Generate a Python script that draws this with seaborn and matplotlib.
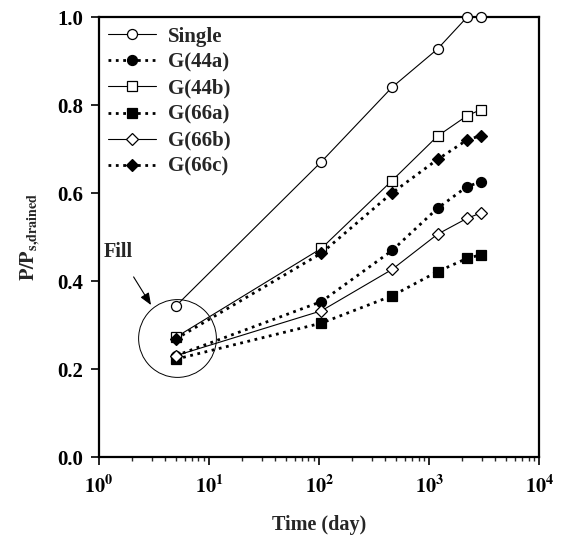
import matplotlib
matplotlib.use("Agg")
import matplotlib.pyplot as plt
import seaborn as sns
import numpy as np
from matplotlib.ticker import FixedLocator, FuncFormatter, LogLocator, NullFormatter

# ---- data ----
time_days = [5, 105, 460, 1190, 2200, 2930]
single = [0.344, 0.672, 0.841, 0.928, 1.0, 1.0]
g44a = [0.231, 0.354, 0.470, 0.566, 0.615, 0.626]
g44b = [0.273, 0.475, 0.629, 0.730, 0.776, 0.790]
g66a = [0.223, 0.305, 0.367, 0.422, 0.452, 0.460]
g66b = [0.231, 0.333, 0.427, 0.507, 0.543, 0.555]
g66c = [0.269, 0.464, 0.601, 0.677, 0.721, 0.731]
series_names = ["Single", "G(44a)", "G(44b)", "G(66a)", "G(66b)", "G(66c)"]
fill_center = (5.15, 0.272)
fill_label_pos = (1.49, 0.467)
fill_arrow_tip = (2.97, 0.346)
x_ticks = [1, 10, 100, 1000, 10000]
y_ticks = [0.0, 0.2, 0.4, 0.6, 0.8, 1.0]

sns.set_style("ticks")
plt.rcParams['font.family'] = ['Liberation Serif', 'DejaVu Serif']
plt.rcParams['font.weight'] = 'bold'
plt.rcParams['mathtext.fontset'] = 'stix'

fig = plt.figure(figsize=(5.63, 5.38), dpi=100)
ax = fig.add_axes([99/563, 1-457.3/538, (539.3-99)/563, (457.3-17.3)/538])

styles = [
    (single, 'o', 'white', '-', 0.8, 7.2),
    (g44a, 'o', 'black', ':', 2.0, 7.2),
    (g44b, 's', 'white', '-', 0.8, 6.8),
    (g66a, 's', 'black', ':', 2.0, 6.8),
    (g66b, 'D', 'white', '-', 0.8, 6.6),
    (g66c, 'D', 'black', ':', 2.0, 6.6),
]
for name, (vals, mk, fc, ls, lw, ms) in zip(series_names, styles):
    sns.lineplot(x=time_days, y=vals, ax=ax, color='black', linestyle=ls,
                 linewidth=lw, marker=mk, markersize=ms, markerfacecolor=fc,
                 markeredgecolor='black', markeredgewidth=0.9, label=name,
                 clip_on=False, zorder=3)

# circle around fill point
ax.plot([fill_center[0]], [fill_center[1]], marker='o', markersize=56,
        markerfacecolor='none', markeredgecolor='black', markeredgewidth=0.7,
        linestyle='none', zorder=2)
ax.annotate('Fill', xy=fill_arrow_tip, xytext=fill_label_pos,
            ha='center', va='center', fontsize=14.5, fontweight='bold',
            arrowprops=dict(arrowstyle='-|>,head_length=0.5,head_width=0.2',
                            color='black', lw=0.8, shrinkA=10, shrinkB=0))

ax.set_xscale('log')
ax.set_xlim(1, 10000)
ax.set_ylim(0, 1.0)
ax.xaxis.set_major_locator(FixedLocator(x_ticks))
ax.xaxis.set_major_formatter(FuncFormatter(lambda v, p: r'$\mathbf{10^{%d}}$' % int(round(np.log10(v)))))
ax.xaxis.set_minor_locator(LogLocator(base=10, subs=np.arange(2, 10)))
ax.xaxis.set_minor_formatter(NullFormatter())
ax.yaxis.set_major_locator(FixedLocator(y_ticks))
ax.set_yticklabels([f"{v:.1f}" for v in y_ticks])

for s in ax.spines.values():
    s.set_linewidth(1.6)
    s.set_color('black')
ax.tick_params(axis='both', which='major', direction='out', length=5.5, width=1.2,
               colors='black')
ax.tick_params(axis='y', which='major', labelsize=15, pad=6)
ax.tick_params(axis='x', which='minor', direction='out', length=3, width=1.0)
ax.tick_params(axis='x', which='major', labelsize=14.5, pad=8)
for lab in ax.get_yticklabels():
    lab.set_fontweight('bold')

ax.set_xlabel('Time (day)', fontsize=14.5, fontweight='bold', labelpad=12)
ax.set_ylabel(r'$\mathbf{P/P_{s{,}drained}}$', fontsize=14.5)
ax.yaxis.set_label_coords(-0.13, 0.5)

leg = ax.legend(loc='upper left', frameon=False, fontsize=15, handlelength=2.3,
                handletextpad=0.58, labelspacing=0.29, borderaxespad=0.15,
                borderpad=0.3, bbox_to_anchor=(0.0, 1.0))
for t in leg.get_texts():
    t.set_fontweight('bold')

fig.savefig('out.png', dpi=100)
